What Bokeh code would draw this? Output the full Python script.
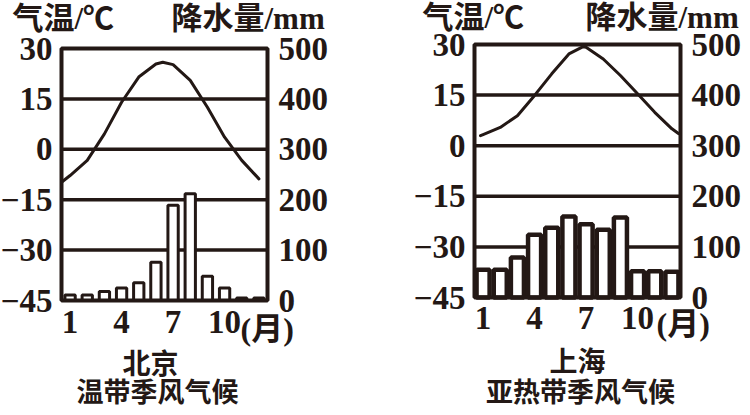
from bokeh.plotting import figure
from bokeh.layouts import row
from bokeh.models import Range1d, LinearAxis, FixedTicker, Label
from bokeh.embed import file_html
from bokeh.resources import INLINE

# ---------------- data ----------------
months = list(range(1, 13))
month_ticks = [1, 4, 7, 10]
month_tick_labels = ["1", "4", "7", "10"]
month_unit_label = "(月)"

temp_ticks = [-45, -30, -15, 0, 15, 30]
temp_tick_labels = ["\u221245", "\u221230", "\u221215", "0", "15", "30"]
precip_ticks = [0, 100, 200, 300, 400, 500]
precip_tick_labels = ["0", "100", "200", "300", "400", "500"]

temp_axis_title = "气温/℃"
precip_axis_title = "降水量/mm"

bj_name = "北京"
bj_climate = "温带季风气候"
bj_precip = [11, 11, 18, 25, 35, 76, 189, 212, 48, 25, 5, 5]
bj_temp_x = [0.5, 1, 2, 3, 4, 5, 6, 6.4, 7, 8, 9, 10, 11, 12]
bj_temp = [-9.8, -7.8, -3.3, 4.6, 14.0, 21.5, 25.4, 25.9, 25.2, 20.5, 12.5, 3.6, -3.3, -8.8]

sh_name = "上海"
sh_climate = "亚热带季风气候"
sh_precip = [55, 55, 79, 124, 138, 160, 145, 134, 158, 52, 52, 51]
sh_temp_x = [0.85, 1, 2, 3, 4, 5, 6, 6.8, 7, 8, 9, 10, 11, 12, 12.38]
sh_temp = [3.0, 3.3, 5.4, 8.9, 14.9, 21.3, 27.2, 29.3, 29.2, 25.7, 20.8, 15.4, 9.9, 5.0, 3.6]

# ---------------- style ----------------
INK = "#231815"
NUM_FONT = "Liberation Serif"
CJK_FONT = "Noto Sans CJK SC"
MIX_FONT = "'Liberation Serif', 'Noto Sans CJK SC'"
NUM_SIZE = "33px"
FIG_H = 410


def make_panel(fig_w, precip, temp_x, temp, name, climate, box, offset_x, bar_width, bar_lw, pos):
    # box: (left, top, width, height) of the chart box, in canvas pixels
    bl, bt, bw, bh = box
    x0, x1 = months[0] - 0.5, months[-1] + 0.5
    t0, t1 = temp_ticks[0], temp_ticks[-1]
    p0, p1 = precip_ticks[0], precip_ticks[-1]
    ppx = bw / (x1 - x0)
    ppy = bh / (t1 - t0)
    xr = Range1d(x0 - bl / ppx, x1 + (fig_w - bl - bw) / ppx)
    yr = Range1d(t0 - (FIG_H - bt - bh) / ppy, t1 + bt / ppy)
    k = (p1 - p0) / (t1 - t0)
    pr = Range1d(p0 + (yr.start - t0) * k, p0 + (yr.end - t0) * k)

    def to_data(ix, iy):
        cx = ix - offset_x
        return xr.start + cx / ppx, yr.end - iy / ppy

    p = figure(width=fig_w, height=FIG_H, output_backend="svg", toolbar_location=None,
               x_range=xr, y_range=yr, min_border=0,
               min_border_left=0, min_border_right=0, min_border_top=0, min_border_bottom=0)
    p.extra_y_ranges = {"precip": pr}
    p.background_fill_color = "white"
    p.border_fill_color = "white"
    p.outline_line_color = None
    p.xgrid.visible = False
    p.ygrid.visible = False

    ya = p.yaxis[0]
    ya.ticker = FixedTicker(ticks=temp_ticks)
    ya.major_label_overrides = dict(zip(temp_ticks, temp_tick_labels))
    ya.fixed_location = x0
    ra = LinearAxis(y_range_name="precip", ticker=FixedTicker(ticks=precip_ticks),
                    major_label_overrides=dict(zip(precip_ticks, precip_tick_labels)))
    p.add_layout(ra, "right")
    ra.fixed_location = x1
    xa = p.xaxis[0]
    xa.ticker = FixedTicker(ticks=month_ticks)
    xa.major_label_overrides = dict(zip(month_ticks, month_tick_labels))
    xa.fixed_location = t0

    for ax, standoff in ((ya, pos["ly_off"]), (ra, pos["ry_off"]), (xa, pos["x_off"])):
        ax.axis_line_color = None
        ax.major_tick_line_color = None
        ax.minor_tick_line_color = None
        ax.major_tick_out = 0
        ax.major_tick_in = 0
        ax.minor_tick_out = 0
        ax.major_label_text_font = NUM_FONT
        ax.major_label_text_font_size = NUM_SIZE
        ax.major_label_text_font_style = "bold"
        ax.major_label_text_color = INK
        ax.major_label_standoff = standoff

    inner = temp_ticks[1:-1]
    p.segment(x0=[x0] * len(inner), x1=[x1] * len(inner), y0=inner, y1=inner,
              line_color=INK, line_width=3.5)
    p.vbar(x=months, top=precip, bottom=p0, width=bar_width, y_range_name="precip",
           fill_color="white", line_color=INK, line_width=bar_lw)
    p.line(temp_x, temp, line_color=INK, line_width=3, line_join="round", line_cap="round")
    p.quad(left=[x0], right=[x1], bottom=[t0], top=[t1], fill_color=None,
           line_color=INK, line_width=4)

    def lab(text, ipos, align, font, size):
        x, y = to_data(*ipos)
        p.add_layout(Label(x=x, y=y, text=text, text_align=align, text_baseline="middle",
                           text_font=font, text_font_size=size, text_font_style="bold",
                           text_color=INK))

    lab(temp_axis_title, pos["t1"], "left", MIX_FONT, "31px")
    lab(precip_axis_title, pos["t2"], "left", MIX_FONT, "31px")
    lab(month_unit_label, pos["mu"], "left", MIX_FONT, "32px")
    lab(name, pos["nm"], "center", CJK_FONT, "28px")
    lab(climate, pos["cl"], "center", CJK_FONT, "27px")
    return p


p1 = make_panel(375, bj_precip, bj_temp_x, bj_temp, bj_name, bj_climate,
                (61, 48, 206, 252), 0, 0.6, 3,
                dict(ly_off=9, ry_off=11, x_off=10,
                     t1=(12, 18), t2=(171, 18), mu=(240, 328),
                     nm=(150, 361), cl=(157, 390)))
p2 = make_panel(370, sh_precip, sh_temp_x, sh_temp, sh_name, sh_climate,
                (99, 44, 206, 253), 375, 0.76, 4.5,
                dict(ly_off=9, ry_off=11, x_off=9,
                     t1=(422, 17), t2=(585, 17), mu=(656, 323),
                     nm=(577, 359), cl=(580, 390)))

layout = row(p1, p2)
open("out.html", "w").write(file_html(layout, INLINE))
